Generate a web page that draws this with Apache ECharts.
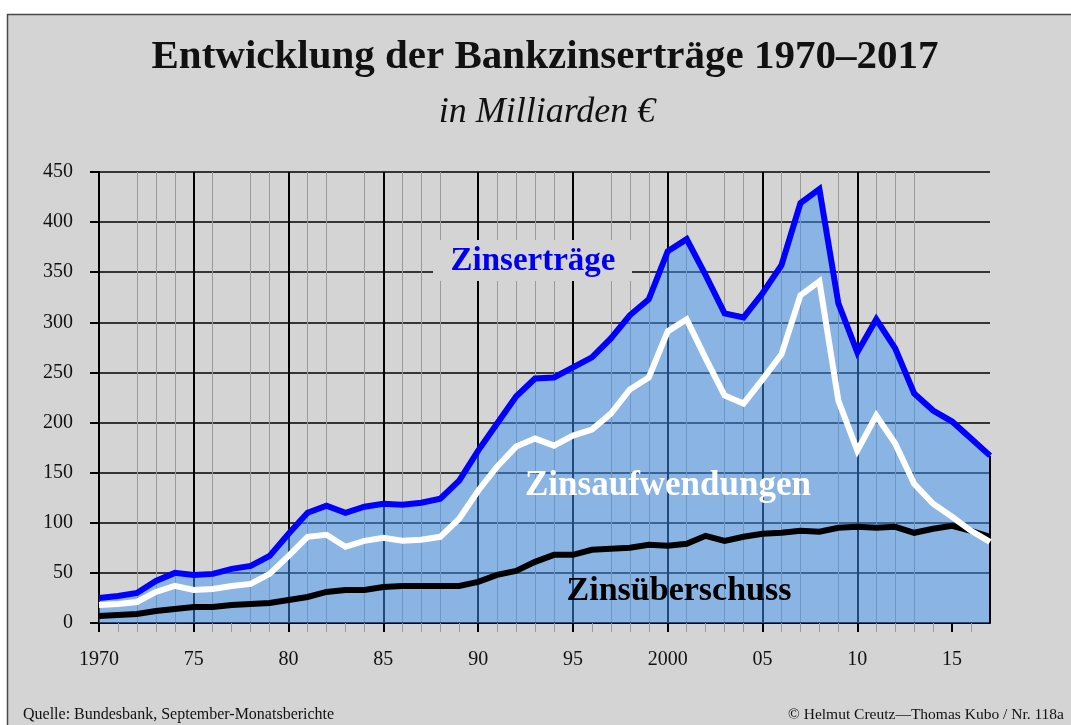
<!DOCTYPE html>
<html>
<head>
<meta charset="utf-8">
<script src="https://cdn.jsdelivr.net/npm/echarts@6/dist/echarts.min.js"></script>
<style>html,body{margin:0;padding:0;background:#fff;}#c{width:1071px;height:725px;}</style>
</head>
<body>
<div id="c"></div>
<script>
const years = [1970,1971,1972,1973,1974,1975,1976,1977,1978,1979,1980,1981,1982,1983,1984,1985,1986,1987,1988,1989,1990,1991,1992,1993,1994,1995,1996,1997,1998,1999,2000,2001,2002,2003,2004,2005,2006,2007,2008,2009,2010,2011,2012,2013,2014,2015,2016,2017];
const zinsertraege = [25,27,30,42,50,48,49,54,57,67,89,110,117,110,116,119,118,120,124,142,172,199,226,244,245,255,265,284,307,323,371,383,347,309,305,329,357,419,433,319,270,303,274,229,212,201,184,167];
const zinsaufwendungen = [18,19,21,31,37,33,34,37,39,49,67,86,88,76,82,85,82,83,86,104,132,156,176,184,177,187,193,209,233,245,291,303,264,227,219,243,268,327,341,222,172,207,179,139,119,106,92,81];
const zinsueberschuss = [7,8,9,12,14,16,16,18,19,20,23,26,31,33,33,36,37,37,37,37,41,48,52,61,68,68,73,74,75,78,77,79,87,82,86,89,90,92,91,95,96,95,96,90,94,97,92,86];
const majorTickYears = [1970,1975,1980,1985,1990,1995,2000,2005,2010,2015];
const yTicks = [0,50,100,150,200,250,300,350,400,450];

const pairs = arr => years.map((y, i) => [y, arr[i]]);
const minorTickYears = years.filter(y => majorTickYears.indexOf(y) < 0 && y !== years[years.length - 1]);
const FONT = '"Liberation Serif", "Times New Roman", serif';
const BG = '#d4d4d4';

const chart = echarts.init(document.getElementById('c'), null, {renderer: 'canvas'});
chart.setOption({
  animation: false,
  backgroundColor: '#ffffff',
  textStyle: {fontFamily: FONT},
  grid: {left: 99, top: 172, width: 891, height: 451, containLabel: false},
  graphic: [
    {type: 'rect', z: -100, shape: {x: 7.5, y: 14.5, width: 1100, height: 800},
     style: {fill: BG, stroke: '#4a4a4a', lineWidth: 1.5}},
    {type: 'text', z: 50, x: 545, y: 57, style: {text: 'Entwicklung der Bankzinserträge 1970–2017',
      font: 'bold 41px ' + FONT, fill: '#111', align: 'center', verticalAlign: 'middle'}},
    {type: 'text', z: 50, x: 547, y: 113, style: {text: 'in Milliarden €',
      font: 'italic 36px ' + FONT, fill: '#111', align: 'center', verticalAlign: 'middle'}},
    {type: 'rect', z: 40, shape: {x: 433, y: 240, width: 199, height: 41}, style: {fill: BG}},
    {type: 'text', z: 50, x: 533, y: 261, style: {text: 'Zinserträge',
      font: 'bold 33px ' + FONT, fill: '#0000f0', align: 'center', verticalAlign: 'middle'}},
    {type: 'text', z: 50, x: 668, y: 486, style: {text: 'Zinsaufwendungen',
      font: 'bold 35px ' + FONT, fill: '#ffffff', align: 'center', verticalAlign: 'middle'}},
    {type: 'text', z: 50, x: 679, y: 591, style: {text: 'Zinsüberschuss',
      font: 'bold 34px ' + FONT, fill: '#000000', align: 'center', verticalAlign: 'middle'}},
    {type: 'text', z: 50, x: 23, y: 715, style: {text: 'Quelle: Bundesbank, September-Monatsberichte',
      font: '16px ' + FONT, fill: '#111', align: 'left', verticalAlign: 'middle'}},
    {type: 'text', z: 50, x: 1064, y: 715, style: {text: '© Helmut Creutz—Thomas Kubo / Nr. 118a',
      font: '15.5px ' + FONT, fill: '#111', align: 'right', verticalAlign: 'middle'}}
  ],
  xAxis: [
    {type: 'value', min: years[0], max: years[years.length - 1], interval: 1,
     axisLine: {show: false},
     axisTick: {show: true, length: 9, customValues: minorTickYears, lineStyle: {color: '#999', width: 1}},
     axisLabel: {show: false},
     splitLine: {show: true, showMaxLine: false,
       lineStyle: {color: ['rgba(0,0,0,0)', '#9a9a9a', '#9a9a9a', '#9a9a9a', '#9a9a9a'], width: 1}}},
    {type: 'value', min: years[0], max: years[years.length - 1], interval: 5, position: 'bottom',
     axisLine: {show: true, lineStyle: {color: '#000', width: 2}},
     axisTick: {show: true, length: 9, customValues: majorTickYears, lineStyle: {color: '#000', width: 2}},
     axisLabel: {show: true, customValues: majorTickYears, margin: 27, fontSize: 20, color: '#111', fontFamily: FONT,
       formatter: v => (v === 1970 || v === 2000) ? String(v) : (v % 5 === 0 ? String(v).slice(2) : '')},
     splitLine: {show: true, showMaxLine: false, lineStyle: {color: '#000', width: 2}}}
  ],
  yAxis: {
    type: 'value', min: yTicks[0], max: yTicks[yTicks.length - 1], interval: 50,
    axisLine: {show: true, lineStyle: {color: '#000', width: 2}},
    axisTick: {show: true, length: 9, lineStyle: {color: '#000', width: 2}},
    axisLabel: {margin: 26, fontSize: 20, color: '#111', fontFamily: FONT},
    splitLine: {show: true, lineStyle: {color: '#000', width: 1.5}}
  },
  series: [
    {name: 'Zinserträge', type: 'line', xAxisIndex: 1, data: pairs(zinsertraege), symbol: 'none', z: 3,
     lineStyle: {color: '#0000ff', width: 6, join: 'miter', miterLimit: 4, cap: 'butt'},
     areaStyle: {color: 'rgb(62,148,244)', opacity: 0.5},
     markLine: {silent: true, symbol: ['none', 'none'], label: {show: false},
       lineStyle: {color: '#000', width: 2, type: 'solid'},
       data: [[{coord: [years[years.length - 1], 0]}, {coord: [years[years.length - 1], zinsertraege[zinsertraege.length - 1]]}]]}},
    {name: 'Zinsüberschuss', type: 'line', xAxisIndex: 1, data: pairs(zinsueberschuss), symbol: 'none', z: 4,
     lineStyle: {color: '#000000', width: 6, join: 'miter', miterLimit: 4, cap: 'butt'}},
    {name: 'Zinsaufwendungen', type: 'line', xAxisIndex: 1, data: pairs(zinsaufwendungen), symbol: 'none', z: 5,
     lineStyle: {color: '#ffffff', width: 6, join: 'miter', miterLimit: 4, cap: 'butt'}}
  ]
});
</script>
</body>
</html>
